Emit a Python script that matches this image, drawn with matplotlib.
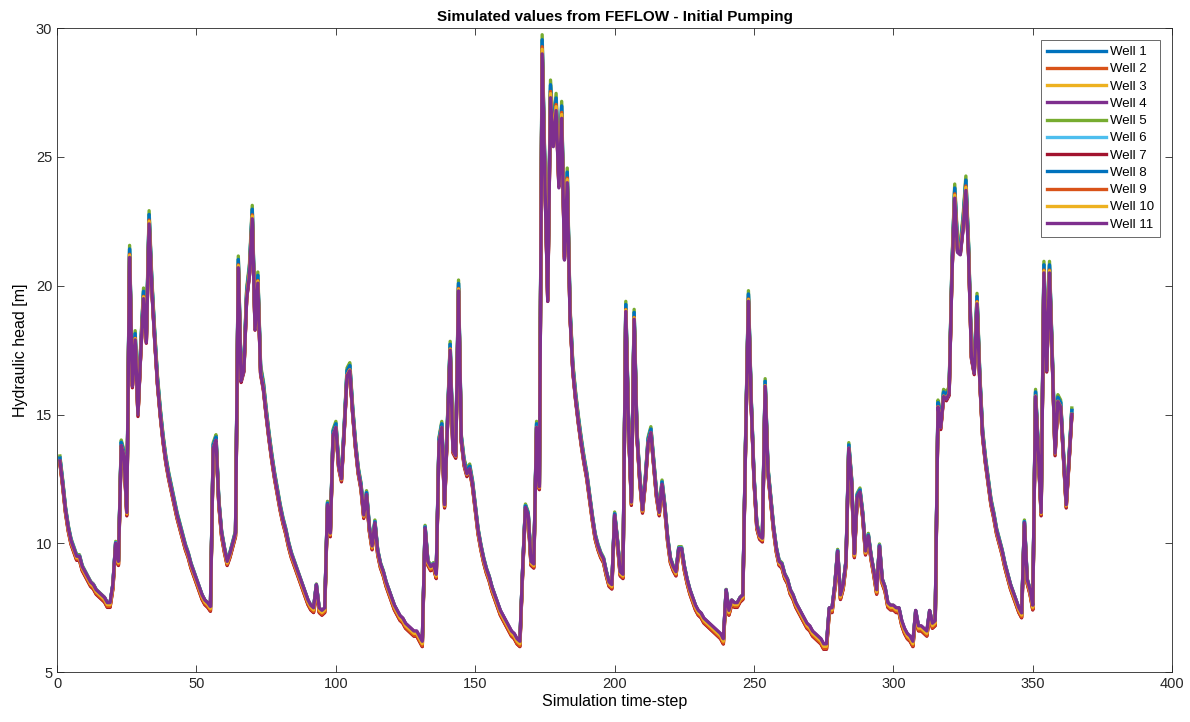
import numpy as np
import matplotlib
import matplotlib.pyplot as plt
matplotlib.use('agg')

plt.rcParams['font.family'] = ['Liberation Sans', 'DejaVu Sans']

# hydraulic head of well 11 (the one drawn on top), per time-step 1..364
base_head = [
    13.2, 12.3, 11.3, 10.6, 10.1, 9.8, 9.5, 9.5, 9.1, 8.9,
    8.7, 8.5, 8.4, 8.2, 8.1, 8.0, 7.9, 7.7, 7.7, 8.4,
    10.0, 9.3, 13.8, 13.4, 11.2, 21.1, 16.1, 17.9, 15.0, 17.4,
    19.5, 17.8, 22.4, 19.8, 17.9, 16.2, 15.0, 14.0, 13.2, 12.6,
    12.1, 11.6, 11.1, 10.7, 10.3, 9.9, 9.6, 9.2, 8.9, 8.6,
    8.3, 8.0, 7.8, 7.7, 7.55, 13.7, 14.0, 11.6, 10.4, 9.8,
    9.3, 9.6, 10.0, 10.4, 20.7, 16.3, 16.7, 19.5, 20.4, 22.6,
    18.3, 20.1, 16.6, 16.0, 15.0, 14.1, 13.3, 12.6, 12.0, 11.4,
    10.9, 10.5, 10.0, 9.6, 9.3, 9.0, 8.7, 8.4, 8.1, 7.8,
    7.6, 7.5, 8.4, 7.5, 7.4, 7.5, 11.5, 10.4, 14.2, 14.5,
    13.0, 12.5, 14.4, 16.5, 16.7, 15.1, 13.8, 12.8, 12.2, 11.1,
    11.9, 10.6, 9.9, 10.8, 9.7, 9.2, 8.9, 8.5, 8.2, 7.9,
    7.6, 7.4, 7.2, 7.1, 6.9, 6.8, 6.7, 6.6, 6.6, 6.4,
    6.2, 10.6, 9.3, 9.1, 9.2, 8.8, 13.9, 14.5, 11.5, 14.5,
    17.5, 13.6, 13.4, 19.8, 14.0, 13.1, 12.7, 12.9, 12.3, 11.4,
    10.5, 9.9, 9.4, 9.0, 8.7, 8.3, 8.0, 7.7, 7.4, 7.2,
    7.0, 6.8, 6.6, 6.5, 6.3, 6.2, 9.0, 11.4, 11.1, 9.3,
    9.2, 14.5, 12.2, 29.0, 24.0, 19.4, 27.3, 25.4, 26.8, 23.8,
    26.5, 21.0, 24.0, 18.8, 16.7, 15.6, 14.7, 13.9, 13.2, 12.6,
    11.8, 11.0, 10.3, 9.9, 9.6, 9.4, 8.9, 8.5, 8.4, 11.1,
    10.1, 8.9, 8.8, 19.0, 14.5, 11.6, 18.7, 14.2, 12.5, 11.3,
    12.4, 13.9, 14.3, 13.1, 11.9, 11.2, 12.3, 11.4, 10.2, 9.4,
    9.1, 8.9, 9.8, 9.8, 9.1, 8.6, 8.2, 7.9, 7.6, 7.4,
    7.3, 7.1, 7.0, 6.9, 6.8, 6.7, 6.6, 6.5, 6.3, 8.2,
    7.4, 7.8, 7.7, 7.7, 7.9, 8.0, 14.0, 19.4, 15.4, 12.5,
    10.7, 10.3, 10.2, 16.1, 12.8, 11.7, 10.6, 9.8, 9.3, 9.2,
    8.8, 8.6, 8.2, 8.0, 7.7, 7.5, 7.3, 7.1, 6.9, 6.8,
    6.6, 6.5, 6.4, 6.3, 6.1, 6.1, 7.5, 7.5, 8.4, 9.7,
    8.0, 8.4, 9.3, 13.7, 12.4, 9.6, 11.8, 12.0, 11.1, 9.7,
    10.3, 9.5, 8.9, 8.2, 9.9, 8.6, 8.3, 7.7, 7.6, 7.6,
    7.5, 7.5, 7.0, 6.7, 6.5, 6.4, 6.2, 7.4, 6.8, 6.8,
    6.7, 6.6, 7.4, 6.9, 7.0, 15.3, 14.5, 15.7, 15.6, 15.8,
    20.4, 23.4, 21.3, 21.2, 22.2, 23.7, 21.1, 17.2, 16.6, 19.3,
    16.3, 14.2, 13.2, 12.4, 11.6, 11.1, 10.5, 10.1, 9.7, 9.2,
    8.8, 8.4, 8.1, 7.8, 7.5, 7.3, 10.8, 8.6, 8.2, 7.6,
    15.7, 13.5, 11.2, 20.5, 16.7, 20.5, 17.1, 13.5, 15.5, 15.3,
    13.4, 11.5, 13.2, 15.0,
]

wells = ['Well 1', 'Well 2', 'Well 3', 'Well 4', 'Well 5', 'Well 6',
         'Well 7', 'Well 8', 'Well 9', 'Well 10', 'Well 11']
# how much each well swings more than well 11, and a small level shift [m]
well_gain = [0.025, 0.022, 0.012, 0.005, 0.035, 0.020, 0.015, 0.028, 0.020, 0.012, 0.0]
well_shift = [0.05, -0.12, -0.08, 0.0, 0.08, 0.03, -0.15, 0.02, -0.10, -0.05, 0.0]

colors = ['#0072BD', '#D95319', '#EDB120', '#7E2F8E', '#77AC30', '#4DBEEE',
          '#A2142F', '#0072BD', '#D95319', '#EDB120', '#7E2F8E']

steps = np.arange(1, len(base_head) + 1)
base = np.array(base_head)

fig = plt.figure(figsize=(11.9, 7.22), dpi=100)
ax = fig.add_axes([0.048, 0.069, 0.937, 0.892])

for i, name in enumerate(wells):
    head = base + well_gain[i] * (base - 10.0) + well_shift[i]
    ax.plot(steps, head, color=colors[i], linewidth=2.4, label=name)

ax.set_xlim(0, 400)
ax.set_ylim(5, 30)
ax.set_xticks(range(0, 401, 50))
ax.set_yticks(range(5, 31, 5))
ax.tick_params(direction='in', length=5, top=True, right=True,
               labelsize=10.5, colors='#262626', width=0.6)
for s in ax.spines.values():
    s.set_color('#262626')
    s.set_linewidth(0.6)

ax.set_title('Simulated values from FEFLOW - Initial Pumping',
             fontsize=11, fontweight='bold', pad=5)
ax.set_xlabel('Simulation time-step', fontsize=11.5, labelpad=2)
ax.set_ylabel('Hydraulic head [m]', fontsize=11.5, labelpad=6)

leg = ax.legend(loc='upper right', fontsize=9.5, handlelength=4.5,
                frameon=True, fancybox=False, borderaxespad=0.9,
                labelspacing=0.38, borderpad=0.45, handletextpad=0.3)
leg.get_frame().set_edgecolor('#262626')
leg.get_frame().set_linewidth(0.6)

plt.savefig('out.png', dpi=100)
plt.close()
